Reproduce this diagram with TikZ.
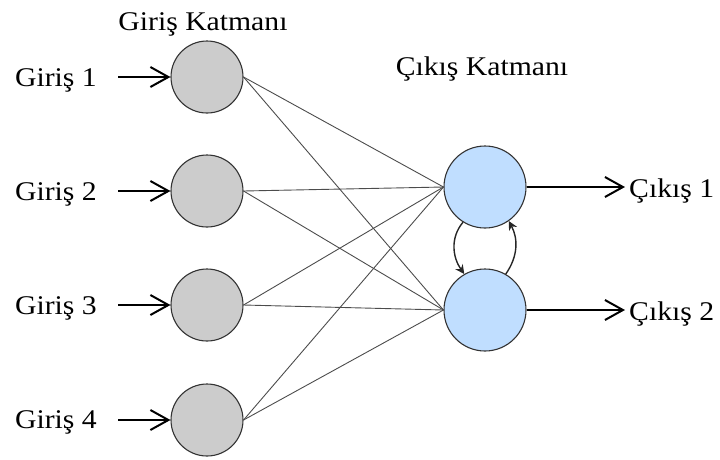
\documentclass[tikz,border=0pt]{standalone}
\usepackage{fontspec}
\setmainfont{Liberation Serif}[FakeStretch=1.1]
\usetikzlibrary{arrows.meta}
\definecolor{ingray}{RGB}{204,204,204}
\definecolor{outblue}{RGB}{192,222,255}
\tikzset{
  inneuron/.style={circle, draw=black!80, line width=1.1pt, fill=ingray, minimum size=72pt, inner sep=0pt},
  outneuron/.style={circle, draw=black!80, line width=1.1pt, fill=outblue, minimum size=82pt, inner sep=0pt},
  lbl/.style={font=\fontsize{27}{32}\selectfont, inner sep=0pt},
  ioarrow/.style={line width=2.2pt, -{Straight Barb[length=18pt,width=20pt,line width=2pt]}},
  wire/.style={line width=0.9pt, draw=black!70},
  loop/.style={line width=1.4pt, draw=black!85, -{Stealth[length=9pt,width=9pt]}}
}
\begin{document}
\begin{tikzpicture}[x=1pt,y=1pt]
\useasboundingbox (0,0) rectangle (720,-459);
% input neurons
\node[inneuron] (i1) at (207,-77) {};
\node[inneuron] (i2) at (207,-191) {};
\node[inneuron] (i3) at (207,-305) {};
\node[inneuron] (i4) at (207,-420) {};
% output neurons
\node[outneuron] (o1) at (485,-187) {};
\node[outneuron] (o2) at (485,-310) {};
% titles
\node[lbl, anchor=base] (t1) at (203,-30) {Giriş Katmanı};
\node[lbl, anchor=base] (t2) at (482,-75) {Çıkış Katmanı};
% input labels
\node[lbl, anchor=base east] (g1) at (97,-86) {Giriş 1};
\node[lbl, anchor=base east] (g2) at (97,-200) {Giriş 2};
\node[lbl, anchor=base east] (g3) at (97,-314) {Giriş 3};
\node[lbl, anchor=base east] (g4) at (97,-428) {Giriş 4};
% output labels
\node[lbl, anchor=base west] (c1) at (629,-197) {Çıkış 1};
\node[lbl, anchor=base west] (c2) at (629,-320) {Çıkış 2};
% arrow start/end coordinates
\coordinate (a1) at (118,-77);
\coordinate (a2) at (118,-191);
\coordinate (a3) at (118,-305);
\coordinate (a4) at (118,-420);
\coordinate (b1) at (625,-187);
\coordinate (b2) at (625,-310);
% input arrows
\draw[ioarrow] (a1) -- (i1.west);
\draw[ioarrow] (a2) -- (i2.west);
\draw[ioarrow] (a3) -- (i3.west);
\draw[ioarrow] (a4) -- (i4.west);
% output arrows
\draw[ioarrow] (o1.east) -- (b1);
\draw[ioarrow] (o2.east) -- (b2);
% weights
\foreach \i in {1,2,3,4}{
  \draw[wire] (i\i.east) -- (o1.west);
  \draw[wire] (i\i.east) -- (o2.west);
}
% recurrent loop
\draw[loop] (o1.238) to[out=230,in=125] (o2.120);
\draw[loop] (o2.60) to[out=55,in=-62] (o1.305);
\end{tikzpicture}
\end{document}
